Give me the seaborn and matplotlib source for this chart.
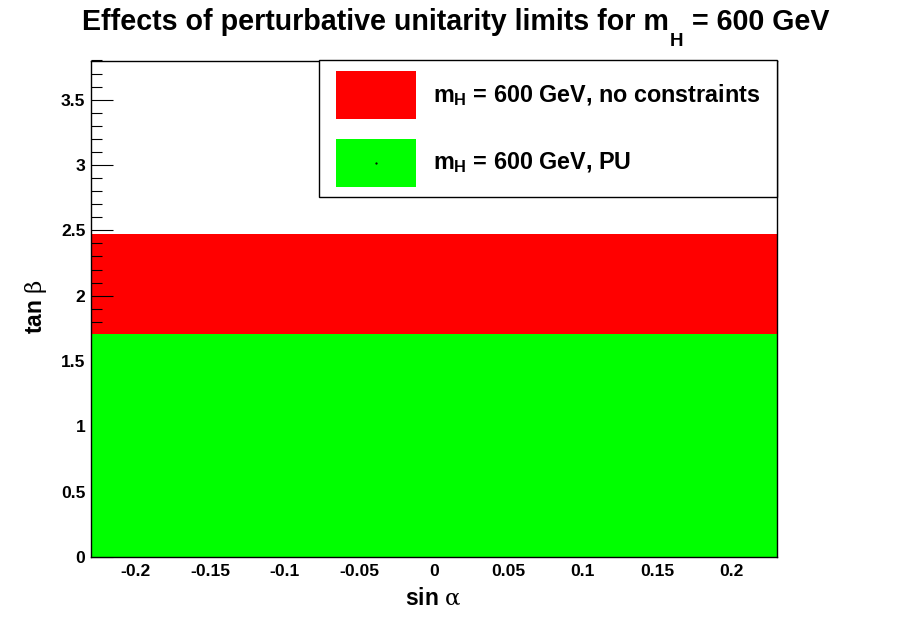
import matplotlib
matplotlib.use("Agg")
import matplotlib.pyplot as plt
from matplotlib import font_manager
from matplotlib.patches import Rectangle
from matplotlib.ticker import MultipleLocator, FixedLocator
import numpy as np
import pandas as pd
import seaborn as sns

# ---------------- data ----------------
sin_alpha = [-0.23, 0.23]                       # scanned sin(alpha) range
band_names = ["no constraints", "PU"]
band_labels = ["m$_{\\rm H}$ = 600 GeV, no constraints", "m$_{\\rm H}$ = 600 GeV, PU"]
band_tanb_max = [2.47, 1.71]                    # upper tan(beta) edge of each allowed band
band_tanb_min = [0.0, 0.0]
band_colors = ["#ff0000", "#00ff00"]
x_ticks = [-0.2, -0.15, -0.1, -0.05, 0.0, 0.05, 0.1, 0.15, 0.2]
x_ticklabels = ["-0.2", "-0.15", "-0.1", "-0.05", "0", "0.05", "0.1", "0.15", "0.2"]
y_ticks = [0, 0.5, 1, 1.5, 2, 2.5, 3, 3.5]
y_ticklabels = ["0", "0.5", "1", "1.5", "2", "2.5", "3", "3.5"]
x_range = [-0.23, 0.23]
y_range = [0.0, 3.8]
title_main = "Effects of perturbative unitarity limits for m"
title_sub = "H"
title_tail = " = 600 GeV"

# ---------------- style ----------------
sns.set_theme(style="white")
names = {f.name for f in font_manager.fontManager.ttflist}
SANS = "Liberation Sans" if "Liberation Sans" in names else "DejaVu Sans"
plt.rcParams["font.family"] = [SANS, "DejaVu Sans"]
plt.rcParams["mathtext.fontset"] = "custom"
plt.rcParams["mathtext.rm"] = SANS + ":bold"
plt.rcParams["mathtext.bf"] = SANS + ":bold"
plt.rcParams["mathtext.it"] = "DejaVu Serif"
plt.rcParams["mathtext.sf"] = SANS + ":bold"

W, H = 913, 619
fig = plt.figure(figsize=(W / 100, H / 100), dpi=100)
fig.patch.set_facecolor("white")
L, R, T, B = 91, 776.5, 60.5, 557
ax = fig.add_axes([L / W, 1 - B / H, (R - L) / W, (B - T) / H])
ax.set_facecolor("white")

df = pd.DataFrame({
    "sin_alpha": sin_alpha * len(band_names),
    "tanb": [v for v in band_tanb_max for _ in sin_alpha],
    "band": [n for n in band_names for _ in sin_alpha],
})
band_z = [0.6, 1.5]
for name, lo, col, z in zip(band_names, band_tanb_min, band_colors, band_z):
    sub = df[df["band"] == name]
    ax.fill_between(sub["sin_alpha"], lo, sub["tanb"], color=col, linewidth=0, zorder=z)
    sns.lineplot(data=sub, x="sin_alpha", y="tanb", color=col, linewidth=0.6,
                 legend=False, ax=ax, zorder=z)

ax.set_xlim(*x_range)
ax.set_ylim(*y_range)
ax.xaxis.set_major_locator(FixedLocator(x_ticks))
ax.set_xticklabels(x_ticklabels)
ax.yaxis.set_major_locator(FixedLocator(y_ticks))
ax.set_yticklabels(y_ticklabels)
ax.yaxis.set_minor_locator(MultipleLocator(0.1))
ax.tick_params(axis="x", which="both", length=0, pad=5, labelsize=12.6)
ax.tick_params(axis="y", which="major", direction="in", length=16, width=0.8,
               color="black", pad=4, labelsize=12.6, left=True, right=False)
ax.tick_params(axis="y", which="minor", direction="in", length=8, width=0.8,
               color="black", left=True, right=False)
ax.yaxis.set_zorder(1.0)
ax.xaxis.set_zorder(1.0)
for lab in ax.get_xticklabels() + ax.get_yticklabels():
    lab.set_fontweight("bold")
    lab.set_color("black")
for sp in ax.spines.values():
    sp.set_visible(True)
    sp.set_color("black")
    sp.set_linewidth(1.0)
    sp.set_zorder(5)
ax.set_xlabel("")
ax.set_ylabel("")
ax.grid(False)

# axis titles
fig.text(433.5 / W, 1 - 598 / H, "sin $\\alpha$", ha="center", va="center",
         fontsize=16.5, fontweight="bold", color="black")
fig.text(36 / W, 1 - 307 / H, "tan $\\beta$", ha="center", va="center",
         rotation=90, fontsize=16.5, fontweight="bold", color="black")

# title built from pieces so the subscript sits low like the original
renderer = fig.canvas.get_renderer()
tsize, ssize = 20.6, 13.5
base_y = 1 - 30.5 / H
sub_y = 1 - 45.5 / H
probe = [fig.text(0, 0, s, fontsize=fs, fontweight="bold")
         for s, fs in ((title_main, tsize), (title_sub, ssize), (title_tail, tsize))]
widths = [p.get_window_extent(renderer).width for p in probe]
for p in probe:
    p.remove()
gap = 2.0
total = sum(widths) + gap
x0 = 456 - total / 2
fig.text(x0 / W, base_y, title_main, ha="left", va="baseline", fontsize=tsize,
         fontweight="bold", color="black")
fig.text((x0 + widths[0] + 1) / W, sub_y, title_sub, ha="left", va="baseline",
         fontsize=ssize, fontweight="bold", color="black")
fig.text((x0 + widths[0] + widths[1] + gap) / W, base_y, title_tail, ha="left",
         va="baseline", fontsize=tsize, fontweight="bold", color="black")

# legend box
def fx(px):
    return px / W

def fy(py):
    return 1 - py / H

fig.patches.append(Rectangle((fx(319), fy(197)), fx(776.5) - fx(319), fy(60.5) - fy(197),
                             transform=fig.transFigure, facecolor="white",
                             edgecolor="black", linewidth=1.0, zorder=10))
rows_y = [(71, 119), (139, 187)]
for (y0, y1), col, lab in zip(rows_y, band_colors, band_labels):
    fig.patches.append(Rectangle((fx(336), fy(y1)), fx(416) - fx(336), fy(y0) - fy(y1),
                                 transform=fig.transFigure, facecolor=col,
                                 edgecolor="none", zorder=11))
    fig.text(fx(433), fy((y0 + y1) / 2), lab, ha="left", va="center",
             fontsize=16.8, fontweight="bold", color="black", zorder=12)
fig.lines.append(plt.Line2D([fx(376)], [fy(163)], marker=".", markersize=1.2,
                            color="black", transform=fig.transFigure, zorder=12))

fig.savefig("out.png", dpi=100, facecolor="white")
